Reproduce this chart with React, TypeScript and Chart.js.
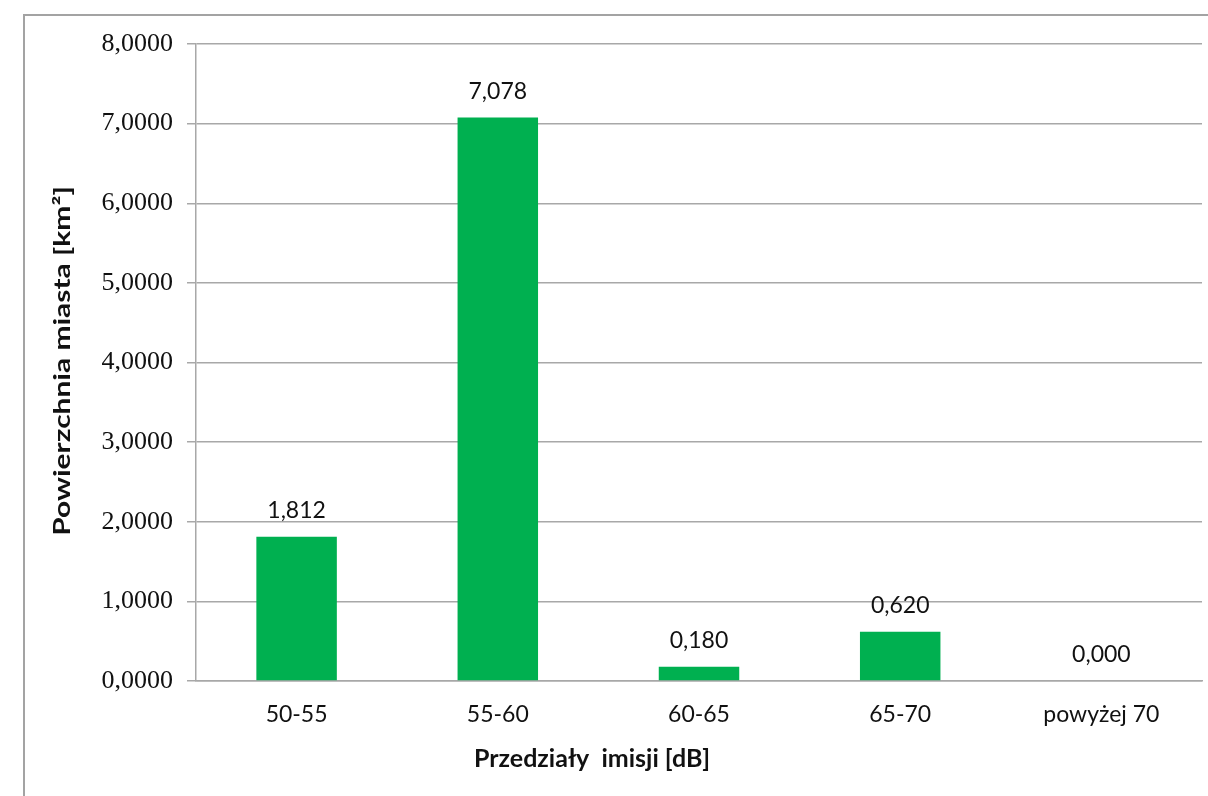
import React, { useEffect, useRef } from "react";
import { Chart, registerables } from "chart.js";

Chart.register(...registerables);

const categories = ["50-55", "55-60", "60-65", "65-70", "powyżej 70"];
const areaValues = [1.812, 7.078, 0.18, 0.62, 0.0];
const yTickMax = 8;
const yTickStep = 1;
const xTitle = "Przedziały  imisji [dB]";
const yTitle = "Powierzchnia miasta [km²]";

const W = 1208;
const H = 796;

export default function App() {
  const ref = useRef<HTMLCanvasElement | null>(null);

  useEffect(() => {
    document.body.style.margin = "0";
    const canvas = ref.current;
    if (!canvas) return;

    const frame = {
      id: "frame",
      beforeDraw(chart: any) {
        const ctx = chart.ctx;
        ctx.save();
        ctx.fillStyle = "#ffffff";
        ctx.fillRect(0, 0, chart.width, chart.height);
        ctx.strokeStyle = "#a3a3a3";
        ctx.lineWidth = 2;
        ctx.strokeRect(24, 15, chart.width + 40, chart.height + 40);
        ctx.restore();
      },
    };

    const titles = {
      id: "axisTitles",
      afterDraw(chart: any) {
        const ctx = chart.ctx;
        ctx.save();
        ctx.fillStyle = "#111111";
        ctx.textAlign = "center";
        ctx.textBaseline = "middle";
        ctx.font = "bold 25px Lato";
        ctx.fillText(xTitle, 592, 759);
        ctx.translate(63, 361);
        ctx.rotate(-Math.PI / 2);
        ctx.scale(1.36, 1);
        ctx.font = "bold 22px Lato";
        ctx.fillText(yTitle, 0, 0);
        ctx.restore();
      },
    };

    const dataLabels = {
      id: "dataLabels",
      afterDatasetsDraw(chart: any) {
        const ctx = chart.ctx;
        const meta = chart.getDatasetMeta(0);
        ctx.save();
        ctx.font = "23px Lato";
        ctx.fillStyle = "#111111";
        ctx.textAlign = "center";
        ctx.textBaseline = "middle";
        meta.data.forEach((el: any, i: number) => {
          const v = areaValues[i];
          ctx.fillText(v.toFixed(3).replace(".", ","), el.x, el.y - 26);
        });
        ctx.restore();
      },
    };

    const chart = new Chart(canvas, {
      type: "bar",
      data: {
        labels: categories,
        datasets: [
          {
            data: areaValues,
            backgroundColor: "#00B050",
            borderWidth: 0,
            barPercentage: 0.4,
            categoryPercentage: 1,
          },
        ],
      },
      options: {
        responsive: false,
        animation: false,
        events: [],
        layout: { padding: { top: 44, right: 6, bottom: 0, left: 0 } },
        plugins: {
          legend: { display: false },
          tooltip: { enabled: false },
          title: { display: false },
        },
        scales: {
          x: {
            grid: { display: false, drawTicks: false },
            border: { display: true, color: "#a8a8a8", width: 1.5 },
            ticks: {
              color: "#111111",
              font: { family: "Lato", size: 23 },
              padding: 20,
              maxRotation: 0,
              autoSkip: false,
            },
            title: { display: false },
            afterFit: (s: any) => {
              s.height = 115;
            },
          },
          y: {
            min: 0,
            max: yTickMax,
            ticks: {
              stepSize: yTickStep,
              color: "#111111",
              font: { family: "Liberation Serif", size: 26 },
              padding: 14,
              callback: (v: any) => Number(v).toFixed(4).replace(".", ","),
            },
            grid: { color: "#a8a8a8", lineWidth: 1.5, tickLength: 9, drawTicks: true },
            border: { display: true, color: "#a8a8a8", width: 1.5 },
            title: { display: false },
            afterFit: (s: any) => {
              s.width = 196;
            },
          },
        },
      },
      plugins: [frame, dataLabels, titles],
    });

    return () => chart.destroy();
  }, []);

  return (
    <div style={{ position: "absolute", left: 0, top: 0, width: W, height: H }}>
      <canvas ref={ref} width={W} height={H} style={{ display: "block", width: W, height: H }} />
    </div>
  );
}
